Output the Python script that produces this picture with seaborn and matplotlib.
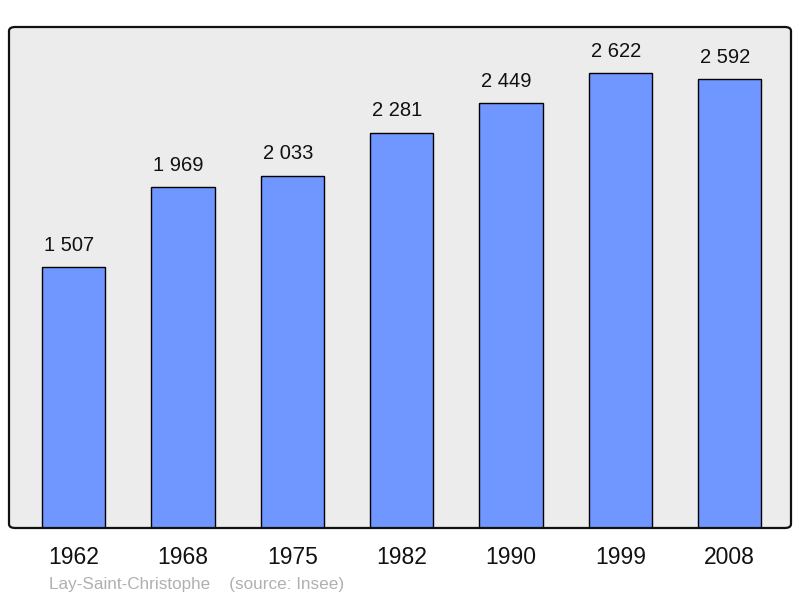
import matplotlib
matplotlib.use("Agg")
import matplotlib.pyplot as plt
from matplotlib.patches import FancyBboxPatch
import seaborn as sns

years = ["1962", "1968", "1975", "1982", "1990", "1999", "2008"]
population = [1507, 1969, 2033, 2281, 2449, 2622, 2592]
labels = ["1 507", "1 969", "2 033", "2 281", "2 449", "2 622", "2 592"]

sns.set_style("white")
plt.rcParams['font.family'] = ['Liberation Sans', 'DejaVu Sans']

fig = plt.figure(figsize=(8, 5.98), dpi=100)
ax = fig.add_axes([9 / 800, 70 / 598, 782 / 800, 501 / 598])
ax.set_facecolor("none")

# grey fill behind bars, rounded black frame on top
box = dict(boxstyle="round,pad=0,rounding_size=0.008", transform=ax.transAxes, clip_on=False)
ax.add_patch(FancyBboxPatch((0, 0), 1, 1, facecolor="#ececec", edgecolor="none", zorder=0, **box))
ax.add_patch(FancyBboxPatch((0, 0), 1, 1, facecolor="none", edgecolor="#111111",
                            linewidth=1.6, zorder=5, **box))

sns.barplot(x=years, y=population, color="#7096ff", saturation=1,
            edgecolor="black", linewidth=1.0, width=0.58, ax=ax, zorder=2)

for i, (v, lab) in enumerate(zip(population, labels)):
    ax.text(i - 0.04, v + 70, lab, ha="center", va="bottom", fontsize=14.5, color="#111111")

ax.set_xlim(-0.59, 6.56)
ax.set_ylim(0, 2890)
ax.set_yticks([])
ax.set_xlabel("")
ax.set_ylabel("")
for s in ax.spines.values():
    s.set_visible(False)
ax.tick_params(axis="x", length=0, labelsize=16.5, pad=13, colors="#111111")

fig.text(49 / 800, 1 - 585 / 598, "Lay-Saint-Christophe    (source: Insee)",
         fontsize=12.3, color="#b0b0b0", ha="left", va="center")

fig.savefig("out.png", dpi=100)
